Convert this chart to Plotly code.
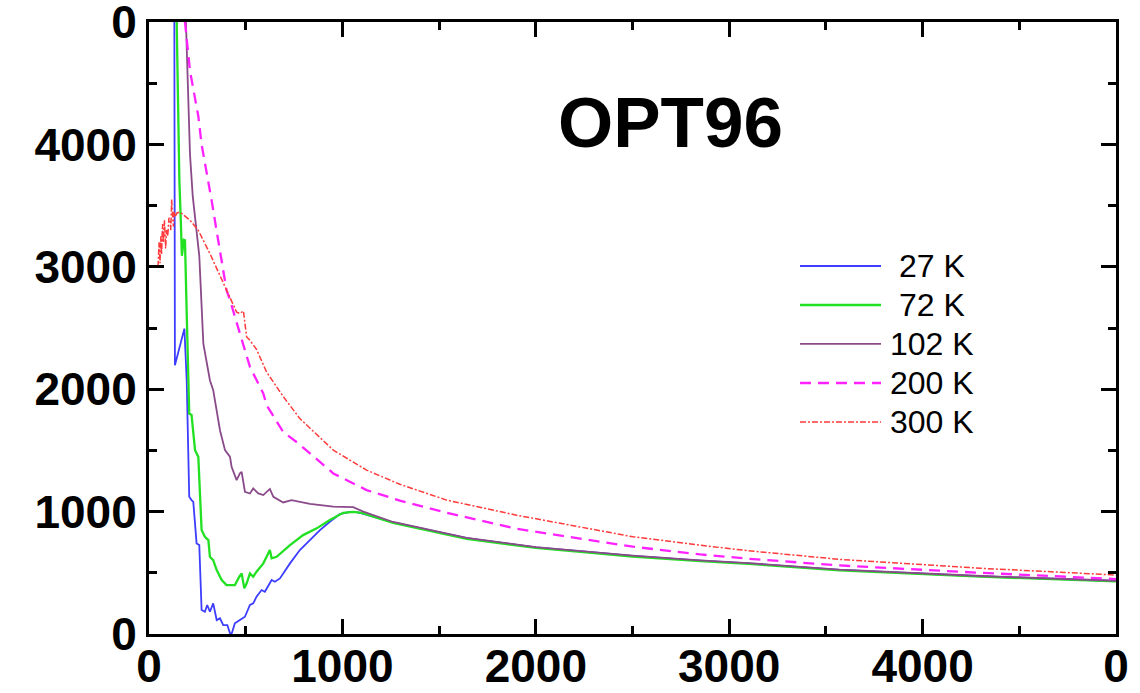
import plotly.graph_objects as go

# ---------------- data ----------------
x_ticks = [0, 1000, 2000, 3000, 4000, 5000]
x_ticktext = ["0", "1000", "2000", "3000", "4000", "0"]
y_ticks = [0, 1000, 2000, 3000, 4000, 5000]
y_ticktext = ["0", "1000", "2000", "3000", "4000", "0"]
minor_ticks = [500, 1500, 2500, 3500, 4500]

series_names = ["27 K", "72 K", "102 K", "200 K", "300 K"]

x27 = [130, 131, 134, 183, 195, 203, 208, 220, 229, 246, 260, 272, 289, 301, 315, 332, 350, 367,
       384, 405, 419, 427, 444, 470, 496, 522, 539, 556, 582, 599, 617, 634, 651, 677, 729, 780,
       832, 884, 935, 987, 1039, 1073, 1100, 1262, 1643, 2000, 2330, 2500, 2850, 3100, 3570, 4300, 5000]
y27 = [5300, 5000, 2196, 2495, 2073, 1584, 1121, 1094, 1080, 740, 727, 196, 182, 237, 182, 250, 114, 128,
       73, 73, 5, 0, 87, 114, 141, 237, 250, 305, 359, 345, 400, 441, 427, 454, 577, 686,
       767, 849, 917, 980, 998, 995, 985, 912, 784, 708, 662, 638, 600, 577, 524, 472, 433]

x72 = [140, 143, 157, 165, 170, 180, 186, 195, 208, 220, 229, 238, 255, 264, 272, 289, 307, 315,
       332, 350, 376, 401, 444, 467, 479, 493, 505, 522, 539, 556, 591, 608, 625, 634, 660, 729,
       797, 867, 935, 1004, 1056, 1100, 1262, 1643, 2000, 2330, 2500, 2850, 3100, 3570, 4300, 5000]
y72 = [5300, 5000, 3706, 3350, 3090, 3220, 3216, 2618, 1801, 1790, 1650, 1502, 1447, 1121, 849, 794, 767, 631,
       604, 522, 441, 400, 400, 468, 495, 373, 414, 495, 468, 509, 577, 631, 686, 618, 631, 727,
       808, 863, 931, 990, 998, 990, 908, 778, 703, 657, 633, 596, 573, 520, 468, 430]

x102 = [188, 191, 212, 226, 260, 281, 315, 332, 367, 393, 419, 427, 453, 470, 479, 496, 522, 539,
        565, 591, 625, 643, 694, 737, 832, 953, 1056, 1108, 1262, 1643, 2000, 2330, 2500, 2850,
        3100, 3570, 4300, 5000]
y102 = [5300, 5000, 3920, 3580, 3090, 2373, 2073, 1992, 1665, 1502, 1447, 1366, 1257, 1312, 1325, 1162, 1148, 1189,
        1148, 1135, 1185, 1121, 1075, 1094, 1064, 1040, 1036, 1000, 915, 786, 710, 665, 640, 602,
        579, 526, 474, 435]

x200 = [180, 186, 212, 255, 272, 307, 324, 350, 367, 401, 419, 453, 470, 522, 591, 608, 694, 770,
        953, 1125, 1297, 1539, 1900, 2503, 2850, 3100, 3570, 4300, 5000]
y200 = [5300, 5000, 4600, 4230, 4000, 3700, 3540, 3290, 3135, 2808, 2727, 2536, 2455, 2182, 1965, 1870, 1650, 1560,
        1312, 1176, 1090, 990, 860, 713, 650, 615, 560, 500, 449]

x300 = [47, 52, 57, 61, 65, 70, 74, 80, 86, 91, 97, 103, 109, 113, 117, 122, 126, 130, 134, 145, 160,
        212, 255, 315, 401, 453, 470, 488, 505, 522, 556, 608, 694, 763, 780, 953, 1125, 1297, 1539,
        1900, 2503, 2850, 3100, 3570, 4300, 5000]
y300 = [3000, 3200, 3030, 3250, 3100, 3350, 3200, 3380, 3150, 3300, 3250, 3400, 3380, 3300, 3550, 3400, 3330, 3450, 3407, 3440, 3448,
        3380, 3298, 3108, 2808, 2630, 2618, 2640, 2427, 2400, 2325, 2140, 1940, 1801, 1760, 1502, 1339, 1223, 1094,
        971, 794, 725, 680, 610, 537, 482]

colors = ["#3d3dff", "#22e022", "#8a4a8a", "#ff22ff", "#ff3b3b"]
widths = [1.8, 2.3, 1.8, 2.3, 1.5]
dashes = ["solid", "solid", "solid", "11px,7px", "6px,2px,2px,2px"]

xs = [x27, x72, x102, x200, x300]
ys = [y27, y72, y102, y200, y300]

fig = go.Figure()
for name, xv, yv, c, w, d in zip(series_names, xs, ys, colors, widths, dashes):
    fig.add_trace(go.Scatter(x=xv, y=yv, mode="lines", name=name,
                             line=dict(color=c, width=w, dash=d), showlegend=False))

tickfont = dict(family="Liberation Sans, Arial, sans-serif", size=46, color="black", weight="bold")
common = dict(range=[0, 5000], showgrid=False, zeroline=False, showline=True, linewidth=3,
              linecolor="black", mirror="ticks", ticks="inside", ticklen=15, tickwidth=3,
              tickcolor="black", tickfont=tickfont, ticklabeloverflow="allow", automargin=False,
              minor=dict(tickvals=minor_ticks, ticks="inside", ticklen=8, tickwidth=2.5, tickcolor="black"))

fig.update_xaxes(tickmode="array", tickvals=x_ticks, ticktext=x_ticktext, ticklabelstandoff=-10, **common)
fig.update_yaxes(tickmode="array", tickvals=y_ticks, ticktext=y_ticktext, **common)

# title inside plot
fig.add_annotation(text="<b>OPT96</b>", x=0.5388, y=0.8366, xref="paper", yref="paper",
                   xanchor="center", yanchor="middle", showarrow=False,
                   font=dict(family="Liberation Sans, Arial, sans-serif", size=71, color="black"))

# manual legend
leg_y = [0.6013, 0.5376, 0.4739, 0.4101, 0.3464]
for name, c, w, d, ly in zip(series_names, colors, widths, dashes, leg_y):
    fig.add_shape(type="line", xref="paper", yref="paper", x0=0.6732, x1=0.757, y0=ly, y1=ly,
                  line=dict(color=c, width=w, dash=d))
    fig.add_annotation(text=name, x=0.8097, y=ly, xref="paper", yref="paper",
                       xanchor="center", yanchor="middle", showarrow=False,
                       font=dict(family="Liberation Sans, Arial, sans-serif", size=32, color="black"))

fig.update_layout(width=1140, height=693, margin=dict(l=149, r=24, t=22, b=59, autoexpand=False),
                  paper_bgcolor="white", plot_bgcolor="white", showlegend=False)

fig.write_html("out.html")
